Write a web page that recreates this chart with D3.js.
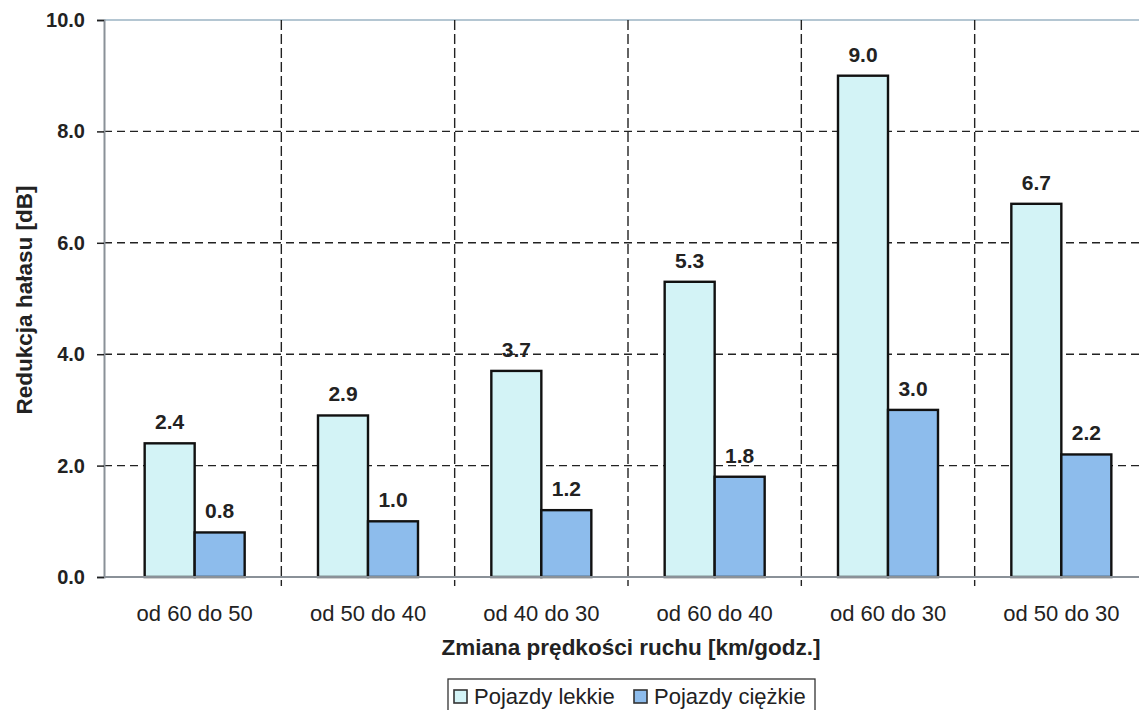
<!DOCTYPE html>
<html><head><meta charset="utf-8">
<script src="https://cdn.jsdelivr.net/npm/d3@7"></script>
<style>body{margin:0;background:#fff}svg{display:block}text{font-family:"Liberation Sans",Arial,sans-serif;fill:#222}</style>
</head><body>
<svg id="c" width="1139" height="710"></svg>
<script>
const categories = ["od 60 do 50","od 50 do 40","od 40 do 30","od 60 do 40","od 60 do 30","od 50 do 30"];
const seriesNames = ["Pojazdy lekkie","Pojazdy ciężkie"];
const lightValues = [2.4, 2.9, 3.7, 5.3, 9.0, 6.7];
const heavyValues = [0.8, 1.0, 1.2, 1.8, 3.0, 2.2];
const yTicks = [0, 2, 4, 6, 8, 10];
const colors = ["#d3f3f6", "#8dbcec"];

(function(){
const svg = d3.select("#c");
const FF = '"Liberation Sans",Arial,sans-serif';
const plotLeft = 104, plotTop = 20, plotBottom = 577, plotRight = 1139;
const x0 = d3.scaleBand().domain(categories).range([108, 1148]).paddingInner(0).paddingOuter(0);
const x1 = d3.scaleBand().domain(seriesNames).range([x0.bandwidth()/2 - 50, x0.bandwidth()/2 + 50]);
const y = d3.scaleLinear().domain([0, 10]).range([plotBottom, plotTop]);

// top border
svg.append("line").attr("x1", plotLeft).attr("x2", plotRight).attr("y1", y(10)).attr("y2", y(10))
  .attr("stroke", "#b4c6d2").attr("stroke-width", 2);

// horizontal gridlines
svg.append("g").selectAll("line").data(yTicks.filter(d => d > 0 && d < 10)).join("line")
  .attr("x1", plotLeft).attr("x2", plotRight).attr("y1", d => y(d)).attr("y2", d => y(d))
  .attr("stroke", "#222").attr("stroke-width", 1.4).attr("stroke-dasharray", "8,5");

// vertical gridlines at category boundaries
svg.append("g").selectAll("line").data(categories.slice(1)).join("line")
  .attr("x1", d => x0(d)).attr("x2", d => x0(d)).attr("y1", plotTop).attr("y2", plotBottom + 9)
  .attr("stroke", "#222").attr("stroke-width", 1.4).attr("stroke-dasharray", "10,4");

// bars
const data = categories.map((c, i) => ({c, vals: [lightValues[i], heavyValues[i]]}));
const g = svg.append("g").selectAll("g").data(data).join("g").attr("transform", d => `translate(${x0(d.c)},0)`);
g.selectAll("rect").data(d => d.vals.map((v, j) => ({s: seriesNames[j], v, j}))).join("rect")
  .attr("x", d => x1(d.s)).attr("width", x1.bandwidth())
  .attr("y", d => y(d.v)).attr("height", d => y(0) - y(d.v))
  .attr("fill", d => colors[d.j]).attr("stroke", "#111").attr("stroke-width", 2.4);
g.selectAll("text").data(d => d.vals.map((v, j) => ({s: seriesNames[j], v, j}))).join("text")
  .attr("x", d => x1(d.s) + x1.bandwidth()/2).attr("y", d => y(d.v) - 14)
  .attr("text-anchor", "middle").attr("font-size", 21).attr("font-weight", "bold")
  .text(d => d.v.toFixed(1));

// baseline
svg.append("line").attr("x1", plotLeft).attr("x2", plotRight).attr("y1", plotBottom).attr("y2", plotBottom)
  .attr("stroke", "#8a9198").attr("stroke-width", 2);

// y axis
const yAxis = d3.axisLeft(y).tickValues(yTicks).tickFormat(d3.format(".1f")).tickSize(7).tickPadding(12);
const ya = svg.append("g").attr("transform", `translate(${plotLeft},0)`).call(yAxis);
ya.select(".domain").attr("stroke", "#8a9198").attr("stroke-width", 2);
ya.selectAll(".tick line").attr("stroke", "#222").attr("stroke-width", 1.5);
ya.selectAll(".tick text").attr("font-size", 20).attr("font-weight", "bold")
  .attr("font-family", FF).attr("fill", "#222");

// x axis labels
const xAxis = d3.axisBottom(x0).tickSize(0).tickPadding(28);
const xa = svg.append("g").attr("transform", `translate(0,${plotBottom})`).call(xAxis);
xa.select(".domain").remove();
xa.selectAll(".tick text").attr("font-size", 22).attr("font-family", FF).attr("fill", "#222");

// axis titles
svg.append("text").attr("x", 631).attr("y", 655).attr("text-anchor", "middle")
  .attr("font-size", 22.5).attr("font-weight", "bold").text("Zmiana prędkości ruchu [km/godz.]");
svg.append("text").attr("transform", "translate(32,300) rotate(-90)").attr("text-anchor", "middle")
  .attr("font-size", 22.5).attr("font-weight", "bold").text("Redukcja hałasu [dB]");

// legend
const lg = svg.append("g");
lg.append("rect").attr("x", 448).attr("y", 679).attr("width", 367).attr("height", 45)
  .attr("fill", "#fff").attr("stroke", "#333").attr("stroke-width", 1.3);
const items = lg.selectAll("g").data(seriesNames).join("g")
  .attr("transform", (d, i) => `translate(${i === 0 ? 454 : 634},0)`);
items.append("rect").attr("x", 0).attr("y", 690).attr("width", 13).attr("height", 13)
  .attr("fill", (d, i) => colors[i]).attr("stroke", "#333").attr("stroke-width", 1.6);
items.append("text").attr("x", 20).attr("y", 704).attr("font-size", 22).text(d => d);
})();
</script>
</body></html>
